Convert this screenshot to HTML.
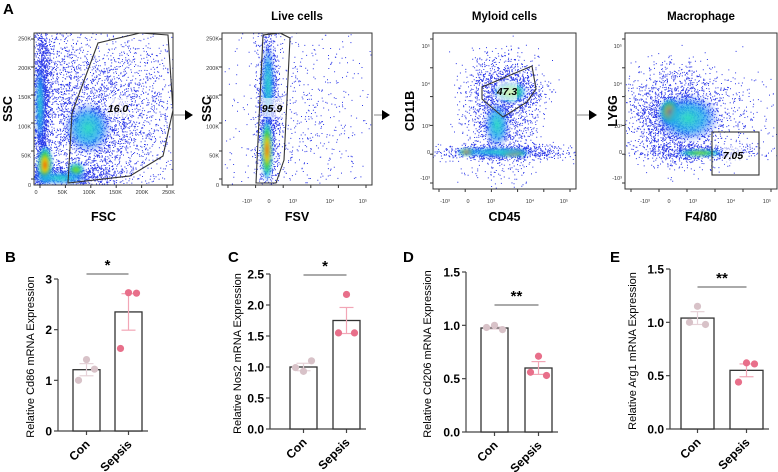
<!DOCTYPE html>
<html><head><meta charset="utf-8">
<style>
html,body{margin:0;padding:0;background:#fff;}
svg{display:block;font-family:"Liberation Sans",Arial,sans-serif;}
.t{font-weight:bold;}
</style></head>
<body>
<svg id="fig" width="778" height="472" viewBox="0 0 778 472" xmlns="http://www.w3.org/2000/svg">
<defs>
<radialGradient id="heat"><stop offset="0" stop-color="#e0101a"/><stop offset="0.3" stop-color="#f5d000"/><stop offset="0.55" stop-color="#30d040"/><stop offset="0.8" stop-color="#20c8e8" stop-opacity="0.8"/><stop offset="1" stop-color="#2040ff" stop-opacity="0"/></radialGradient>
<radialGradient id="cool"><stop offset="0" stop-color="#30e0c0"/><stop offset="0.5" stop-color="#20a8f0" stop-opacity="0.8"/><stop offset="1" stop-color="#2040ff" stop-opacity="0"/></radialGradient>
<radialGradient id="grn"><stop offset="0" stop-color="#a0e020"/><stop offset="0.4" stop-color="#30d060"/><stop offset="0.75" stop-color="#20c0f0" stop-opacity="0.7"/><stop offset="1" stop-color="#2040ff" stop-opacity="0"/></radialGradient>
<filter id="bl"><feGaussianBlur stdDeviation="1.5"/></filter>
</defs>
<text x="3" y="14" class="t" font-size="15">A</text>
<g id="flow"></g>
<g id="bars"></g>
</svg>
<script>
// ---- bar chart data ----
const groups = ["Con","Sepsis"];
const cd86Means = [1.21, 2.35];
const cd86Err = [0.12, 0.36];
const cd86Con = [1.41, 1.22, 1.00];
const cd86Sep = [2.73, 2.72, 1.63];
const nos2Means = [1.00, 1.75];
const nos2Err = [0.06, 0.21];
const nos2Con = [0.93, 1.10, 0.99];
const nos2Sep = [2.17, 1.55, 1.55];
const cd206Means = [0.975, 0.60];
const cd206Err = [0.01, 0.06];
const cd206Con = [1.00, 0.96, 0.98];
const cd206Sep = [0.71, 0.53, 0.56];
const arg1Means = [1.04, 0.55];
const arg1Err = [0.06, 0.06];
const arg1Con = [1.15, 0.98, 1.00];
const arg1Sep = [0.62, 0.61, 0.44];
const ticksB = ["0","1","2","3"];
const ticksC = ["0.0","0.5","1.0","1.5","2.0","2.5"];
const ticksDE = ["0.0","0.5","1.0","1.5"];

const NS="http://www.w3.org/2000/svg";
function mk(tag,attrs,parent,txt){const e=document.createElementNS(NS,tag);for(const k in attrs)e.setAttribute(k,attrs[k]);if(txt!==undefined)e.textContent=txt;parent.appendChild(e);return e;}

const panels=[
 {id:"b",letter:"B",lx:5,ax:58,y0:431,yTop:279,ymax:3,ticks:ticksB,bars:[73,115],means:cd86Means,err:cd86Err,pts:[cd86Con,cd86Sep],title:"Relative Cd86 mRNA Expression",tx:30,star:"*",sy:274,bw:27},
 {id:"c",letter:"C",lx:228,ax:270,y0:429,yTop:274,ymax:2.5,ticks:ticksC,bars:[290,333],means:nos2Means,err:nos2Err,pts:[nos2Con,nos2Sep],title:"Relative Nos2 mRNA Expression",tx:237,star:"*",sy:275,bw:27},
 {id:"d",letter:"D",lx:403,ax:466,y0:432,yTop:272,ymax:1.5,ticks:ticksDE,bars:[481,525],means:cd206Means,err:cd206Err,pts:[cd206Con,cd206Sep],title:"Relative Cd206 mRNA Expression",tx:427,star:"**",sy:305,bw:27},
 {id:"e",letter:"E",lx:610,ax:670,y0:429,yTop:269,ymax:1.5,ticks:ticksDE,bars:[681,730],means:arg1Means,err:arg1Err,pts:[arg1Con,arg1Sep],title:"Relative Arg1 mRNA Expression",tx:632,star:"**",sy:287,bw:33}
];
const barsG=document.getElementById('bars');
const cols=["#d8c2c8","#e86f8a"], errCols=["#e6d2d8","#f2a6b6"];
panels.forEach(p=>{
 const g=mk('g',{},barsG);
 
 
 const ys=v=>p.y0-(v/p.ymax)*(p.y0-p.yTop);
 const bw=p.bw;
 const L=mk('text',{x:p.lx,y:262,'font-size':15,class:'t'},g,p.letter);
 
 const ya=mk('line',{x1:p.ax,y1:p.yTop,x2:p.ax,y2:p.y0,stroke:'#444','stroke-width':1.2},g);
 
 const xa=mk('line',{x1:p.ax,y1:p.y0,x2:p.bars[1]+bw+6,y2:p.y0,stroke:'#444','stroke-width':1.2},g);
 
 p.ticks.forEach(t=>{const y=ys(parseFloat(t));
  mk('line',{x1:p.ax-4,y1:y,x2:p.ax,y2:y,stroke:'#444','stroke-width':1.2},g);
  const tl=mk('text',{x:p.ax-6,y:y+4.5,'font-size':12,class:'t','text-anchor':'end'},g,t);
  });
 const yt=mk('text',{x:0,y:0,'font-size':11,'text-anchor':'middle',transform:`translate(${p.tx+4},${(p.yTop+p.y0)/2+2}) rotate(-90)`},g,p.title);
 
 groups.forEach((gr,i)=>{
  const x=p.bars[i],cx=x+bw/2,m=p.means[i];
  mk('line',{x1:cx,y1:p.y0,x2:cx,y2:p.y0+4,stroke:'#444','stroke-width':1.2},g);
  const r=mk('rect',{x:x,y:ys(m),width:bw,height:p.y0-ys(m),fill:'#fff',stroke:'#333','stroke-width':1.3},g);
  
  const e=p.err[i];
  mk('line',{x1:cx,y1:ys(m-e),x2:cx,y2:ys(m+e),stroke:errCols[i],'stroke-width':1.2},g);
  [m-e,m+e].forEach(v=>mk('line',{x1:cx-7,y1:ys(v),x2:cx+7,y2:ys(v),stroke:errCols[i],'stroke-width':1.2},g));
  p.pts[i].forEach((v,j)=>{
   const dx=j===0?0:(j===1?8:-8);
   const c=mk('circle',{cx:cx+dx,cy:ys(v),r:3.6,fill:cols[i]},g);
   });
  const xl=mk('text',{x:0,y:0,'font-size':12,class:'t','text-anchor':'end',transform:`translate(${cx+4},${p.y0+14}) rotate(-45)`},g,gr);
  
 });
 const c0=p.bars[0]+bw/2,c1=p.bars[1]+bw/2;
 mk('line',{x1:c0,y1:p.sy,x2:c1,y2:p.sy,stroke:'#555','stroke-width':1},g);
 const st=mk('text',{x:(c0+c1)/2,y:p.sy-4,'font-size':15,class:'t','text-anchor':'middle'},g,p.star);
 
});

// ---- flow plots (decorative density) ----
const flowG=document.getElementById('flow');
let seed=7;function rnd(){seed=(seed*16807)%2147483647;return seed/2147483647;}
function gauss(){return (rnd()+rnd()+rnd()-1.5)/0.5;}
const flows=[
 {name:"fsc-ssc",x:34,y:33,w:139,h:152,xl:"FSC",yl:"SSC",ylx:12,title:"",
  clusters:[[42,110,4,45,1600],[90,125,28,30,1800],[125,100,45,55,1800],[65,175,30,6,900],[50,60,15,30,600]],
  blobs:[["heat",45,165,8,20],["cool",40,105,5,45],["cool",88,128,24,26],["grn",76,170,9,8],["cool",60,178,32,7]],
  gate:"68,183 72,113 98,43 140,33 168,35 173,110 163,156 130,176",lab:["16.0",118,108]},
 {name:"fsv-ssc",x:222,y:33,w:150,h:152,xl:"FSV",yl:"SSC",ylx:211,title:"Live cells",
  clusters:[[268,110,6,45,1500],[290,110,30,50,450],[330,110,40,50,250]],
  blobs:[["cool",268,85,7,45],["heat",267,150,6,32]],
  gate:"256,183 263,35 280,33 290,38 284,160 276,183",lab:["95.9",272,108]},
 {name:"cd45-cd11b",x:433,y:33,w:143,h:156,xl:"CD45",yl:"CD11B",ylx:414,title:"Myloid cells",
  clusters:[[500,115,18,30,1400],[510,90,18,14,800],[500,152,35,4,800]],
  blobs:[["grn",510,92,17,11],["cool",497,125,13,24],["heat",467,152,9,4],["heat",512,153,17,4],["cool",495,152,40,5]],
  gate:"482,87 532,66 536,89 527,102 503,117 482,99",lab:["47.3",507,91]},
 {name:"f480-ly6g",x:625,y:33,w:152,h:156,xl:"F4/80",yl:"LY6G",ylx:617,title:"Macrophage",
  clusters:[[670,115,20,22,1600],[700,115,35,25,900],[695,152,30,4,600]],
  blobs:[["heat",670,112,11,14],["cool",688,118,32,24],["grn",700,153,24,4]],
  rect:[712,132,47,43],lab:["7.05",733,155]}
];
flows.forEach(f=>{
 const g=mk('g',{},flowG);
 
 const cp='cp'+f.name;const c=mk('clipPath',{id:cp},g);mk('rect',{x:f.x,y:f.y,width:f.w,height:f.h},c);
 const inner=mk('g',{'clip-path':`url(#${cp})`},g);
 let d="";
 f.clusters.forEach(cl=>{for(let i=0;i<cl[4];i++){const x=cl[0]+gauss()*cl[2],y=cl[1]+gauss()*cl[3];d+=`M${x.toFixed(1)} ${y.toFixed(1)}h1v1h-1z`;}});
 mk('path',{d:d,fill:'#2a36e8'},inner);
 f.blobs.forEach(b=>mk('ellipse',{cx:b[1],cy:b[2],rx:b[3],ry:b[4],fill:`url(#${b[0]})`,filter:'url(#bl)'},inner));
 const fr=mk('rect',{x:f.x,y:f.y,width:f.w,height:f.h,fill:'none',stroke:'#333','stroke-width':1},g);
 
 if(f.gate){const gp=mk('polygon',{points:f.gate,fill:'none',stroke:'#333','stroke-width':1.1},g);}
 if(f.rect){const gr=mk('rect',{x:f.rect[0],y:f.rect[1],width:f.rect[2],height:f.rect[3],fill:'none',stroke:'#333','stroke-width':1.1},g);}
 mk('rect',{x:f.lab[1]-10,y:f.lab[2]-10,width:20,height:19,fill:'#fff','fill-opacity':0.65},g);
 const lt=mk('text',{x:f.lab[1],y:f.lab[2]+4,'font-size':10.5,class:'t','font-style':'italic','text-anchor':'middle'},g,f.lab[0]);
 
 const xl=mk('text',{x:f.x+f.w/2,y:221,'font-size':12.5,class:'t','text-anchor':'middle'},g,f.xl);
 
 const yl=mk('text',{x:0,y:0,'font-size':12.5,class:'t','text-anchor':'middle',transform:`translate(${f.ylx},${f.y+f.h/2}) rotate(-90)`},g,f.yl);
 
 if(f.title){const tt=mk('text',{x:f.x+f.w/2,y:20,'font-size':11.5,class:'t','text-anchor':'middle'},g,f.title);}
 for(let i=0;i<6;i++){mk('line',{x1:f.x+6+i*(f.w-12)/5,y1:f.y+f.h,x2:f.x+6+i*(f.w-12)/5,y2:f.y+f.h+3,stroke:'#333'},g);
  mk('line',{x1:f.x-3,y1:f.y+6+i*(f.h-12)/5,x2:f.x,y2:f.y+6+i*(f.h-12)/5,stroke:'#333'},g);}
});
const fscTicks=["0","50K","100K","150K","200K","250K"];
fscTicks.forEach((t,i)=>{mk('text',{x:36+i*26.5,y:194,'font-size':5.5,'text-anchor':'middle',fill:'#333'},flowG,t);
 mk('text',{x:31,y:185-i*29.3+2,'font-size':5.5,'text-anchor':'end',fill:'#333'},flowG,t);
 mk('text',{x:219,y:185-i*29.3+2,'font-size':5.5,'text-anchor':'end',fill:'#333'},flowG,t);});
[[222,"-10³",247],[222,"0",269],[222,"10³",293],[222,"10⁴",330],[222,"10⁵",363],
 [433,"-10³",445],[433,"0",468],[433,"10³",491],[433,"10⁴",530],[433,"10⁵",564],
 [625,"-10³",645],[625,"0",669],[625,"10³",693],[625,"10⁴",731],[625,"10⁵",767]].forEach(a=>mk('text',{x:a[2],y:203,'font-size':5.5,'text-anchor':'middle',fill:'#333'},flowG,a[1]));
[[430,"10⁵",48],[430,"10⁴",86],[430,"10³",128],[430,"0",154],[430,"-10³",180],
 [622,"10⁵",48],[622,"10⁴",86],[622,"10³",128],[622,"0",154],[622,"-10³",180]].forEach(a=>mk('text',{x:a[0],y:a[2],'font-size':5.5,'text-anchor':'end',fill:'#333'},flowG,a[1]));
[[174,193],[374,390],[577,597]].forEach(a=>{const ar=mk('g',{},flowG);
 mk('line',{x1:a[0],y1:115,x2:a[1]-6,y2:115,stroke:'#888'},ar);mk('polygon',{points:`${a[1]-8},110 ${a[1]},115 ${a[1]-8},120`,fill:'#000'},ar);});
</script>
</body></html>
